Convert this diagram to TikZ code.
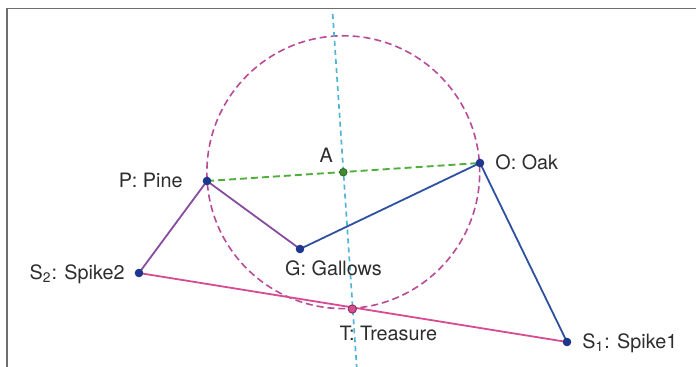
\documentclass[tikz,border=0pt]{standalone}
\usepackage{fontspec}
\setmainfont{TeX Gyre Heros}
\usetikzlibrary{positioning}
\definecolor{framegray}{RGB}{110,110,110}
\definecolor{circpink}{RGB}{185,75,150}
\definecolor{chordgreen}{RGB}{80,175,60}
\definecolor{bisectcyan}{RGB}{80,180,215}
\definecolor{pathblue}{RGB}{45,80,160}
\definecolor{pathpurple}{RGB}{135,75,160}
\definecolor{spikepink}{RGB}{215,75,145}
\definecolor{dotblue}{RGB}{30,55,140}
\definecolor{labelgray}{RGB}{45,45,45}

\begin{document}
\begin{tikzpicture}[
    x=0.5pt, y=-0.5pt,
    frame/.style={draw=framegray, line width=0.7pt},
    circ/.style={draw=circpink, line width=0.8pt, dash pattern=on 3.5pt off 2pt},
    chord/.style={draw=chordgreen, line width=0.95pt, dash pattern=on 3.5pt off 2pt},
    bisect/.style={draw=bisectcyan, line width=0.85pt, dash pattern=on 2.5pt off 2pt},
    bluepath/.style={draw=pathblue, line width=0.9pt},
    purplepath/.style={draw=pathpurple, line width=0.9pt},
    spikeline/.style={draw=spikepink, line width=0.9pt},
    dot/.style={circle, fill=dotblue, inner sep=0pt, minimum size=4.3pt},
    lbl/.style={inner sep=0pt, text height=7pt, text depth=0pt, font=\fontsize{9.9}{11}\selectfont, text=labelgray}
]

\useasboundingbox (0,0) rectangle (696,367);
\draw [frame] (7,367) -- (7,8.5) -- (696,8.5);

\coordinate (P) at (207,181);
\coordinate (O) at (480,163);
\coordinate (A) at (343.3,172.2);
\coordinate (G) at (300,249);
\coordinate (S2) at (139,273);
\coordinate (S1) at (567,342);
\coordinate (T) at (352.3,309);
\coordinate (top) at (332.7,14);
\coordinate (bottom) at (356.7,367);

\draw [circ] (A) circle [radius=68.2pt];
\draw [bisect] (top) -- (bottom);
\draw [chord] (P) -- (O);
\draw [spikeline] (S2) -- (S1);
\draw [purplepath] (S2) -- (P);
\draw [purplepath] (P) -- (G);
\draw [bluepath] (G) -- (O);
\draw [bluepath] (O) -- (S1);

\node (Pdot) [dot] at (P) {};
\node (Odot) [dot] at (O) {};
\node (Gdot) [dot] at (G) {};
\node (S2dot) [dot] at (S2) {};
\node (S1dot) [dot] at (S1) {};
\node (Adot) [dot, fill=chordgreen!80!black, draw=chordgreen!60!black, minimum size=3.8pt] at (A) {};
\node (Tdot) [dot, fill=spikepink, draw=spikepink!60!black, minimum size=4.2pt] at (T) {};

\node (Plbl) [lbl, left=12pt of P] {P: Pine};
\node (Olbl) [lbl, right=7.5pt of O] {O: Oak};
\node (Albl) [lbl, above left=4.5pt and 5pt of A] {A};
\node (Glbl) [lbl, below=6pt of G, xshift=16.75pt] {G: Gallows};
\node (S2lbl) [lbl, left=7pt of S2] {S\textsubscript{2}: Spike2};
\node (Tlbl) [lbl, below=8.5pt of T, xshift=18pt] {T: Treasure};
\node (S1lbl) [lbl, right=7.5pt of S1] {S\textsubscript{1}: Spike1};

\end{tikzpicture}
\end{document}
